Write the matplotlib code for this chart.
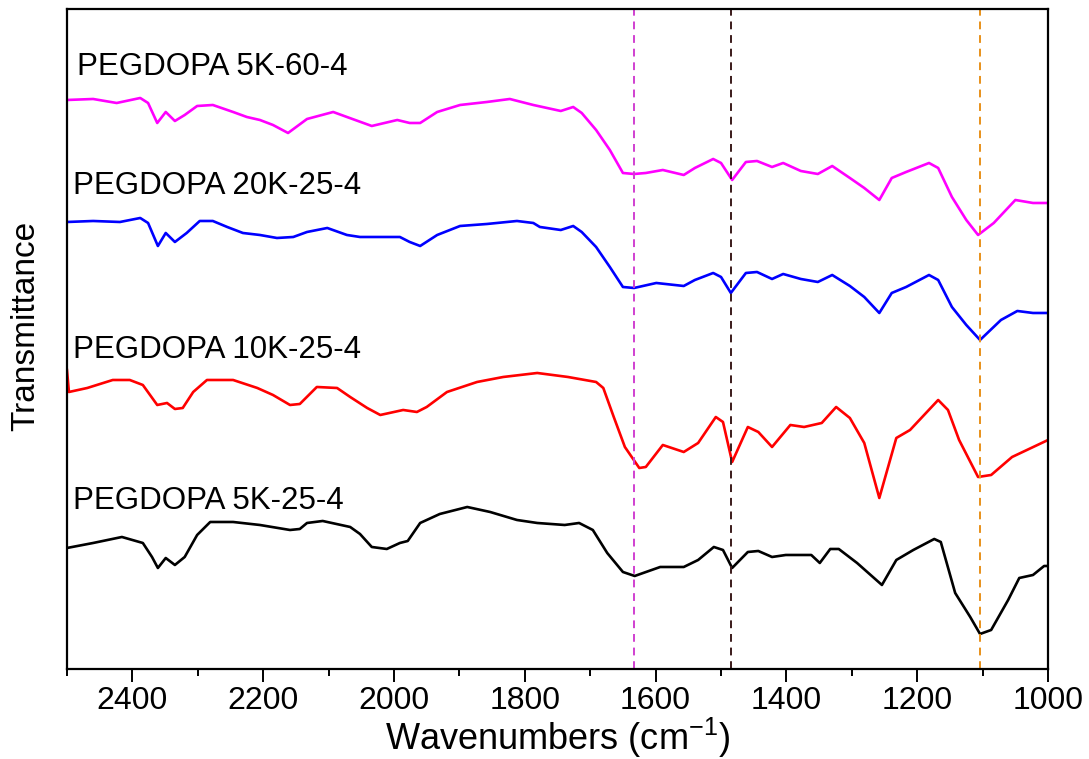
import numpy as np
import matplotlib
matplotlib.use("Agg")
import matplotlib.pyplot as plt
from matplotlib.ticker import MultipleLocator

plt.rcParams['font.family'] = ['Liberation Sans', 'DejaVu Sans']
plt.rcParams['mathtext.fontset'] = 'custom'
plt.rcParams['mathtext.rm'] = 'Liberation Sans'

# spectra (transmittance in arbitrary, offset units)
wn_5k60 = [2500, 2460, 2424, 2388, 2376, 2362, 2349, 2335, 2320, 2301, 2277, 2246, 2225, 2205,
           2185, 2162, 2133, 2093, 2072, 2034, 1995, 1976, 1960, 1934, 1899, 1858, 1823, 1787,
           1745, 1726, 1713, 1691, 1670, 1650, 1633, 1615, 1589, 1557, 1540, 1512, 1500, 1483,
           1462, 1445, 1422, 1405, 1378, 1352, 1330, 1303, 1281, 1258, 1239, 1217, 1182, 1168,
           1147, 1125, 1107, 1083, 1050, 1023, 1000]
t_5k60 = [569, 570, 566, 571, 566, 546, 557, 548, 554, 563, 564, 557, 552, 549,
          544, 536, 550, 557, 552, 543, 549, 546, 546, 557, 564, 567, 570, 564,
          558, 562, 556, 539, 519, 496, 495, 496, 499, 494, 501, 510, 506, 489,
          507, 508, 502, 506, 498, 495, 503, 491, 481, 469, 491, 497, 506, 501,
          472, 449, 434, 446, 469, 466, 466]

wn_20k = [2500, 2460, 2419, 2388, 2376, 2361, 2349, 2335, 2317, 2297, 2277, 2255, 2231, 2205,
          2179, 2154, 2133, 2102, 2072, 2052, 2021, 1991, 1976, 1960, 1934, 1899, 1858, 1812,
          1787, 1777, 1745, 1726, 1713, 1691, 1670, 1650, 1633, 1599, 1557, 1540, 1512, 1500,
          1485, 1462, 1445, 1422, 1405, 1378, 1352, 1330, 1303, 1281, 1258, 1239, 1217, 1182,
          1168, 1147, 1125, 1104, 1072, 1047, 1023, 1000]
t_20k = [447, 448, 447, 451, 446, 423, 436, 427, 436, 448, 448, 442, 436, 434,
         431, 432, 437, 441, 434, 432, 432, 432, 427, 423, 434, 443, 445, 448,
         446, 442, 439, 443, 437, 422, 402, 382, 381, 386, 383, 389, 396, 392,
         376, 396, 397, 390, 395, 390, 387, 394, 383, 372, 356, 376, 382, 394,
         389, 362, 344, 329, 349, 358, 356, 356]

wn_10k = [2500, 2497, 2469, 2430, 2404, 2384, 2362, 2347, 2335, 2323, 2307, 2286, 2246, 2209,
          2185, 2159, 2144, 2118, 2087, 2067, 2041, 2021, 1986, 1965, 1950, 1919, 1873, 1833,
          1781, 1734, 1691, 1680, 1664, 1647, 1625, 1615, 1589, 1557, 1535, 1508, 1497, 1483,
          1459, 1443, 1422, 1394, 1373, 1346, 1324, 1303, 1281, 1258, 1232, 1211, 1168, 1153,
          1136, 1107, 1087, 1055, 1000]
t_10k = [299, 277, 281, 289, 289, 284, 264, 266, 260, 261, 277, 289, 289, 281,
         274, 264, 265, 282, 281, 272, 261, 254, 259, 257, 262, 277, 287, 292,
         296, 292, 287, 281, 252, 222, 201, 202, 224, 217, 226, 252, 247, 207,
         242, 237, 222, 244, 242, 246, 262, 251, 226, 171, 231, 239, 269, 259,
         229, 192, 194, 212, 229]

wn_5k25 = [2500, 2460, 2416, 2384, 2370, 2361, 2349, 2335, 2320, 2301, 2281, 2246, 2205, 2159,
           2144, 2133, 2109, 2067, 2052, 2034, 2011, 1991, 1979, 1960, 1930, 1888, 1853, 1812,
           1781, 1739, 1717, 1696, 1674, 1650, 1632, 1593, 1557, 1535, 1511, 1497, 1483, 1459,
           1443, 1422, 1401, 1362, 1349, 1333, 1320, 1292, 1254, 1232, 1206, 1174, 1164, 1142,
           1119, 1104, 1087, 1061, 1044, 1023, 1006, 1000]
t_5k25 = [121, 126, 132, 126, 112, 101, 111, 104, 112, 134, 147, 147, 144, 139,
          140, 146, 148, 142, 135, 122, 120, 126, 128, 146, 155, 162, 157, 149,
          146, 144, 146, 139, 116, 97, 93, 102, 102, 109, 122, 119, 101, 117,
          118, 112, 114, 114, 106, 120, 120, 106, 84, 109, 119, 130, 127, 76,
          52, 35, 39, 69, 91, 94, 103, 103]

labels = ['PEGDOPA 5K-60-4', 'PEGDOPA 20K-25-4', 'PEGDOPA 10K-25-4', 'PEGDOPA 5K-25-4']
label_x = [2485, 2491, 2491, 2491]
label_y = [602, 483, 319, 168]
colors = ['#FF00FF', '#0000FF', '#FF0000', '#000000']

peaks = [1633, 1485, 1104]
peak_colors = ['#D040D0', '#3A1A1A', '#E8901A']

fig = plt.figure(figsize=(10.89, 7.59), dpi=100)
ax = fig.add_axes([0.0615, 0.1186, 0.9009, 0.8689])

spectra = [(wn_5k60, t_5k60), (wn_20k, t_20k), (wn_10k, t_10k), (wn_5k25, t_5k25)]
for (w, t), c in zip(spectra, colors):
    ax.plot(w, t, color=c, lw=1.9)

for p, c in zip(peaks, peak_colors):
    ax.axvline(p, color=c, ls=(0, (4, 3)), lw=1.4)

for lab, lx, ly in zip(labels, label_x, label_y):
    ax.text(lx, ly, lab, fontsize=22.5, va='center', ha='left')

ax.set_xlim(2500, 1000)
ax.set_ylim(0, 659.5)
ax.set_xticks(np.arange(2400, 999, -200))
ax.xaxis.set_minor_locator(MultipleLocator(100))
ax.tick_params(axis='x', which='major', direction='out', length=9, width=1.4,
               labelsize=23, pad=3)
ax.tick_params(axis='x', which='minor', direction='out', length=5, width=1.4)
ax.set_yticks([])
for s in ax.spines.values():
    s.set_linewidth(1.6)

ax.set_xlabel(r'Wavenumbers (cm$^{\mathregular{-1}}$)', fontsize=26, labelpad=0)
ax.set_ylabel('Transmittance', fontsize=24)
ax.yaxis.set_label_coords(-0.026, 0.52)

fig.savefig('out.png', dpi=100)
